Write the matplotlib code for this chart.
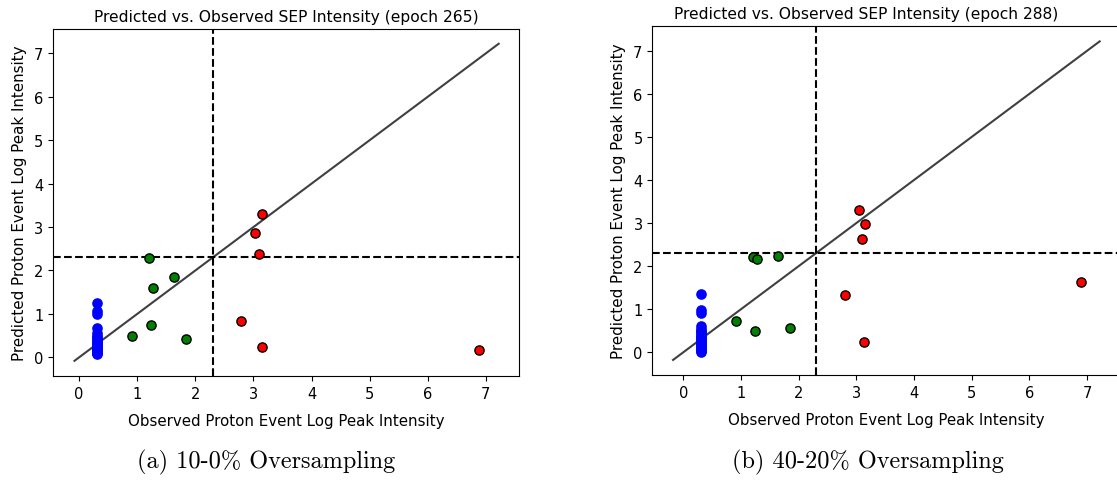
import matplotlib
matplotlib.use("Agg")
import matplotlib.pyplot as plt

# ---- data: panel (a) epoch 265 ----
a_blue_x = [0.30] * 22
a_blue_y = [1.25, 1.07, 1.00, 0.68, 0.55, 0.50, 0.46, 0.42, 0.38, 0.35, 0.32,
            0.30, 0.27, 0.25, 0.22, 0.20, 0.18, 0.15, 0.13, 0.11, 0.09, 0.08]
a_green_x = [1.20, 1.27, 1.64, 1.24, 0.91, 1.84]
a_green_y = [2.28, 1.60, 1.85, 0.75, 0.48, 0.43]
a_red_x = [3.14, 3.03, 3.09, 2.79, 3.14, 6.89]
a_red_y = [3.29, 2.87, 2.38, 0.83, 0.24, 0.18]
a_diag = [-0.08, 7.22]

# ---- data: panel (b) epoch 288 ----
b_blue_x = [0.30] * 22
b_blue_y = [1.36, 0.97, 0.90, 0.60, 0.55, 0.50, 0.46, 0.42, 0.38, 0.35, 0.32,
            0.29, 0.26, 0.23, 0.20, 0.17, 0.14, 0.11, 0.08, 0.05, 0.02, 0.00]
b_green_x = [1.20, 1.27, 1.64, 0.92, 1.25, 1.85]
b_green_y = [2.22, 2.17, 2.24, 0.73, 0.49, 0.57]
b_red_x = [3.04, 3.15, 3.10, 2.80, 3.14, 6.89]
b_red_y = [3.30, 2.97, 2.62, 1.33, 0.23, 1.64]
b_diag = [-0.18, 7.22]

threshold = 2.3
titles = ["Predicted vs. Observed SEP Intensity (epoch 265)",
          "Predicted vs. Observed SEP Intensity (epoch 288)"]
captions = ["(a) 10-0% Oversampling", "(b) 40-20% Oversampling"]
xlabel = "Observed Proton Event Log Peak Intensity"
ylabel = "Predicted Proton Event Log Peak Intensity"

W, H = 1117, 481
fig = plt.figure(figsize=(W / 100, H / 100), dpi=100)

def rect(l, t, r, b):
    return [l / W, (H - b) / H, (r - l) / W, (b - t) / H]

axes = [fig.add_axes(rect(53, 30, 519, 377)),
        fig.add_axes(rect(652.3, 27.3, 1121, 376))]

panels = [
    (a_blue_x, a_blue_y, a_green_x, a_green_y, a_red_x, a_red_y, a_diag),
    (b_blue_x, b_blue_y, b_green_x, b_green_y, b_red_x, b_red_y, b_diag),
]
title_x = [0.5, 0.456]

for ax, (bx, by, gx, gy, rx, ry, dg), title, tx in zip(axes, panels, titles, title_x):
    ax.plot(dg, dg, color="#404040", lw=1.5, zorder=1)
    ax.scatter(bx, by, s=44, color="blue", zorder=3)
    ax.scatter(gx, gy, s=44, color="green", edgecolors="black", linewidths=1, zorder=3)
    ax.scatter(rx, ry, s=44, color="red", edgecolors="black", linewidths=1, zorder=3)
    ax.axvline(threshold, color="black", ls="--", lw=1.5, zorder=2)
    ax.axhline(threshold, color="black", ls="--", lw=1.5, zorder=2)
    ax.set_title(title, fontsize=11.2, x=tx)
    ax.set_xlabel(xlabel, fontsize=10.8, labelpad=9)
    ax.set_ylabel(ylabel, fontsize=10.9, labelpad=5)
    ax.tick_params(labelsize=10.5)
    ax.set_xticks(range(0, 8))
    ax.set_yticks(range(0, 8))

axes[0].set_xlim(-0.45, 7.57)
axes[0].set_ylim(-0.43, 7.56)
axes[1].set_xlim(-0.54, 7.59)
axes[1].set_ylim(-0.53, 7.57)

fig.text(266 / W, 1 - 462 / H, captions[0], fontsize=17.5, family="cmr10",
         ha="center", va="center")
fig.text(868 / W, 1 - 462 / H, captions[1], fontsize=17.5, family="cmr10",
         ha="center", va="center")

fig.savefig("out.png", dpi=100)
